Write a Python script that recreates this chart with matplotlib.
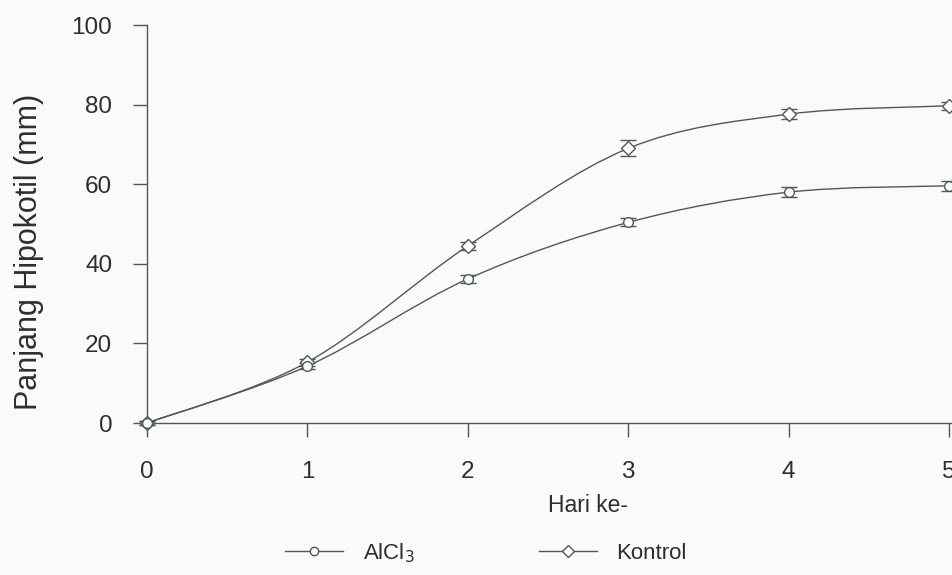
import matplotlib
matplotlib.use("Agg")
import numpy as np
import matplotlib.pyplot as plt
from matplotlib.path import Path
from matplotlib.patches import PathPatch
from matplotlib.lines import Line2D

plt.rcParams.update({"font.family": ["Liberation Sans", "DejaVu Sans"]})

INK = "#2e2e2e"
LINE = "#4f5a54"
BG = "#fafafa"

# data
days = [0, 1, 2, 3, 4, 5]
alcl3 = [0, 14.3, 36.2, 50.4, 58.0, 59.6]
alcl3_err = [0.4, 0.8, 1.0, 1.0, 1.2, 1.2]
kontrol = [0, 15.3, 44.5, 69.0, 77.6, 79.7]
kontrol_err = [0.4, 0.9, 1.0, 2.0, 1.2, 1.0]

y_ticks = [0, 20, 40, 60, 80, 100]


def smooth_path(x, y):
    # catmull-rom curve through the points, drawn as cubic bezier segments
    x = np.asarray(x, float)
    y = np.asarray(y, float)
    pts = np.column_stack([x, y])
    n = len(pts)
    verts = [pts[0]]
    codes = [Path.MOVETO]
    for i in range(n - 1):
        p0 = pts[i - 1] if i > 0 else pts[i]
        p1, p2 = pts[i], pts[i + 1]
        p3 = pts[i + 2] if i + 2 < n else pts[i + 1]
        c1 = p1 + (p2 - p0) / 6.0
        c2 = p2 - (p3 - p1) / 6.0
        verts += [c1, c2, p2]
        codes += [Path.CURVE4] * 3
    return Path(verts, codes)


fig = plt.figure(figsize=(9.52, 5.75), dpi=100, facecolor=BG)
ax = fig.add_axes([147 / 952, 152 / 575, 805 / 952, 398 / 575], facecolor=BG)

for vals, err, mk, ms in [(kontrol, kontrol_err, "D", 7), (alcl3, alcl3_err, "o", 7)]:
    ax.add_patch(PathPatch(smooth_path(days, vals), fill=False,
                           edgecolor=LINE, lw=1.0, zorder=2))
    eb = ax.errorbar(days, vals, yerr=err, fmt=mk, ms=ms, mfc="white", mec=LINE,
                     mew=1.0, ecolor=LINE, elinewidth=0.9, capsize=6,
                     capthick=0.9, zorder=3)
    for artist in eb.get_children():
        artist.set_clip_on(False)

ax.set_xlim(0, 5 * 805 / 802)
ax.set_ylim(0, 100)
ax.set_xticks(days)
ax.set_yticks(y_ticks)
for s in ["top", "right"]:
    ax.spines[s].set_visible(False)
for s in ["left", "bottom"]:
    ax.spines[s].set_color(LINE)
    ax.spines[s].set_linewidth(1.0)
ax.tick_params(axis="y", direction="out", length=10, width=1.0, color=LINE,
               pad=15, labelsize=17.5, labelcolor=INK)
ax.tick_params(axis="x", direction="out", length=10, width=1.0, color=LINE,
               pad=17, labelsize=17.5, labelcolor=INK)

ax.set_ylabel("Panjang Hipokotil (mm)", fontsize=22, color=INK)
ax.yaxis.set_label_coords(-0.128, 0.43)
fig.text(588 / 952, 1 - 506 / 575, "Hari ke-", fontsize=16.5, color=INK,
         ha="center", va="center")

handles = [
    Line2D([], [], color=LINE, lw=1.0, marker="o", ms=6, mfc="white", mec=LINE),
    Line2D([], [], color=LINE, lw=1.0, marker="D", ms=6, mfc="white", mec=LINE),
]
fig.legend(handles, ["AlCl$_3$", "Kontrol"], loc="center",
           bbox_to_anchor=(486 / 952, 1 - 553 / 575), ncol=2, frameon=False,
           fontsize=16, handlelength=2.6, handletextpad=0.9, columnspacing=5.6,
           labelcolor=INK)

fig.savefig("out.png", dpi=100, facecolor=BG)
